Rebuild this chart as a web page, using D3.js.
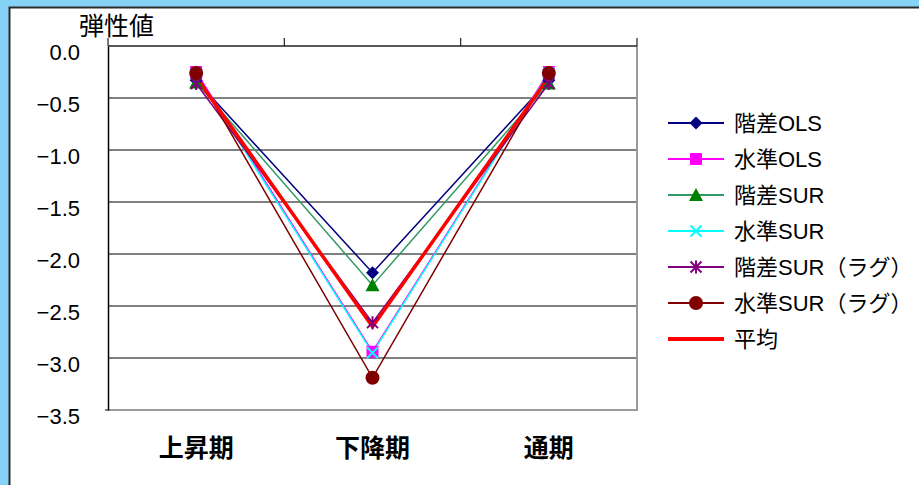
<!DOCTYPE html>
<html>
<head>
<meta charset="utf-8">
<script src="https://cdn.jsdelivr.net/npm/d3@7"></script>
<style>
  html, body { margin: 0; padding: 0; background: #86d2f6; }
  svg { display: block; }
</style>
</head>
<body>
<svg id="chart" width="919" height="485"></svg>
<script>
// Periods on the x axis
const categories = ["上昇期", "下降期", "通期"];

// Elasticity estimates per model
const seriesNames = ["階差OLS", "水準OLS", "階差SUR", "水準SUR", "階差SUR（ラグ）", "水準SUR（ラグ）", "平均"];
const diffOLS   = [-0.33, -2.18, -0.33];
const levelOLS  = [-0.25, -2.94, -0.25];
const diffSUR   = [-0.35, -2.30, -0.36];
const levelSUR  = [-0.27, -2.95, -0.26];
const diffSURL  = [-0.36, -2.66, -0.36];
const levelSURL = [-0.26, -3.19, -0.26];
const average   = [-0.30, -2.70, -0.30];

const yTicks = [0, -0.5, -1.0, -1.5, -2.0, -2.5, -3.0, -3.5];
const yTitle = "弾性値";

const seriesValues = [diffOLS, levelOLS, diffSUR, levelSUR, diffSURL, levelSURL, average];
const styles = [
  { line: "#000080", fill: "#000080", marker: "diamond", width: 1.5 },
  { line: "#ff00ff", fill: "#ff00ff", marker: "square",  width: 1.5 },
  { line: "#339966", fill: "#008000", marker: "triangle", width: 1.5 },
  { line: "#00ffff", fill: "#00ffff", marker: "cross",   width: 1.5 },
  { line: "#800080", fill: "#800080", marker: "star",    width: 1.5 },
  { line: "#800000", fill: "#800000", marker: "circle",  width: 1.5 },
  { line: "#ff0000", fill: "#ff0000", marker: null,      width: 3.5 }
];

const latinJP = "'Liberation Sans', Arial, 'Noto Sans CJK JP', sans-serif";
const svg = d3.select("#chart");

// White panel with dark edge
svg.append("rect").attr("x", 9.5).attr("y", 7.5).attr("width", 920).attr("height", 490)
  .attr("fill", "#ffffff").attr("stroke", "#2a2a2a").attr("stroke-width", 2);

const plot = { left: 108, top: 46, right: 637, bottom: 410 };

const x = d3.scaleBand().domain(categories).range([plot.left, plot.right]);
const y = d3.scaleLinear().domain([-3.5, 0]).range([plot.bottom, plot.top]);

// Horizontal gridlines
svg.append("g").selectAll("line").data(yTicks.filter(v => v < 0 && v > -3.5)).join("line")
  .attr("x1", plot.left).attr("x2", plot.right)
  .attr("y1", d => y(d)).attr("y2", d => y(d))
  .attr("stroke", "#000").attr("stroke-width", 1);

// Plot-area frame (right and bottom, grey)
svg.append("path")
  .attr("d", `M${plot.right},${plot.top} V${plot.bottom} H${plot.left}`)
  .attr("fill", "none").attr("stroke", "#9a9a9a").attr("stroke-width", 2);

// Y axis on the left
const yAxis = d3.axisLeft(y).tickValues(yTicks).tickSize(0).tickPadding(28)
  .tickFormat(d => d3.format(".1f")(d).replace("-", "−"));
const yg = svg.append("g").attr("transform", `translate(${plot.left},0)`).call(yAxis);
yg.select(".domain").attr("stroke", "#000").attr("stroke-width", 1.5);
yg.selectAll("text").attr("font-family", "'Liberation Sans', Arial, sans-serif")
  .attr("font-size", 22).attr("fill", "#000").attr("dy", "0.62em");
// small tick at the bottom-left corner
svg.append("line").attr("x1", plot.left - 3).attr("x2", plot.left)
  .attr("y1", plot.bottom).attr("y2", plot.bottom).attr("stroke", "#000");

// Category axis along value 0 with boundary ticks pointing up
svg.append("line").attr("x1", plot.left).attr("x2", plot.right)
  .attr("y1", y(0)).attr("y2", y(0)).attr("stroke", "#222").attr("stroke-width", 1.5);
const bounds = categories.map(c => x(c)).concat([plot.right]);
svg.append("g").selectAll("line").data(bounds).join("line")
  .attr("x1", d => d).attr("x2", d => d)
  .attr("y1", y(0) - 8).attr("y2", y(0))
  .attr("stroke", "#222").attr("stroke-width", 1.2);

// Category labels below the plot
svg.append("g").selectAll("text").data(categories).join("text")
  .attr("x", d => x(d) + x.bandwidth() / 2).attr("y", 457)
  .attr("text-anchor", "middle")
  .attr("font-family", "'Noto Sans CJK JP', sans-serif").attr("font-weight", "bold")
  .attr("font-size", 25).attr("fill", "#000").text(d => d);

// Axis title
svg.append("text").attr("x", 79).attr("y", 35)
  .attr("font-family", "'Noto Sans CJK JP', sans-serif")
  .attr("font-size", 25).attr("fill", "#000").text(yTitle);

// Marker drawing
function drawMarker(g, type, cx, cy, color) {
  const s = 5.5;
  if (type === "diamond") {
    g.append("path").attr("d", `M${cx},${cy - 6.5} L${cx + 6.5},${cy} L${cx},${cy + 6.5} L${cx - 6.5},${cy} Z`)
      .attr("fill", color);
  } else if (type === "square") {
    g.append("rect").attr("x", cx - 6).attr("y", cy - 6).attr("width", 12).attr("height", 12)
      .attr("fill", color);
  } else if (type === "triangle") {
    g.append("path").attr("d", `M${cx},${cy - 7} L${cx + 7},${cy + 6} L${cx - 7},${cy + 6} Z`)
      .attr("fill", color);
  } else if (type === "cross") {
    g.append("path").attr("d", `M${cx - s},${cy - s} L${cx + s},${cy + s} M${cx - s},${cy + s} L${cx + s},${cy - s}`)
      .attr("stroke", color).attr("stroke-width", 2);
  } else if (type === "star") {
    g.append("path").attr("d", `M${cx - s},${cy - s} L${cx + s},${cy + s} M${cx - s},${cy + s} L${cx + s},${cy - s} M${cx},${cy - 6.5} L${cx},${cy + 6.5}`)
      .attr("stroke", color).attr("stroke-width", 2);
  } else if (type === "circle") {
    g.append("circle").attr("cx", cx).attr("cy", cy).attr("r", 7).attr("fill", color);
  }
}

const cx = c => x(c) + x.bandwidth() / 2;
const line = d3.line().x((d, i) => cx(categories[i])).y(d => y(d));

// Lines
const linesG = svg.append("g");
seriesValues.forEach((vals, k) => {
  linesG.append("path").datum(vals).attr("d", line)
    .attr("fill", "none").attr("stroke", styles[k].line)
    .attr("stroke-width", styles[k].width).attr("stroke-linejoin", "miter");
});

// Markers
const markG = svg.append("g");
seriesValues.forEach((vals, k) => {
  if (!styles[k].marker) return;
  vals.forEach((v, i) => drawMarker(markG, styles[k].marker, cx(categories[i]), y(v), styles[k].fill));
});

// Legend
const legend = svg.append("g");
seriesNames.forEach((name, k) => {
  const ly = 123 + k * 36;
  legend.append("line").attr("x1", 668).attr("x2", 724).attr("y1", ly).attr("y2", ly)
    .attr("stroke", styles[k].line).attr("stroke-width", k === 6 ? 4 : 2);
  if (styles[k].marker) drawMarker(legend, styles[k].marker, 696, ly, styles[k].fill);
  legend.append("text").attr("x", 734).attr("y", ly + 8)
    .attr("font-family", latinJP)
    .attr("font-size", 22).attr("fill", "#000").text(name);
});
</script>
</body>
</html>
